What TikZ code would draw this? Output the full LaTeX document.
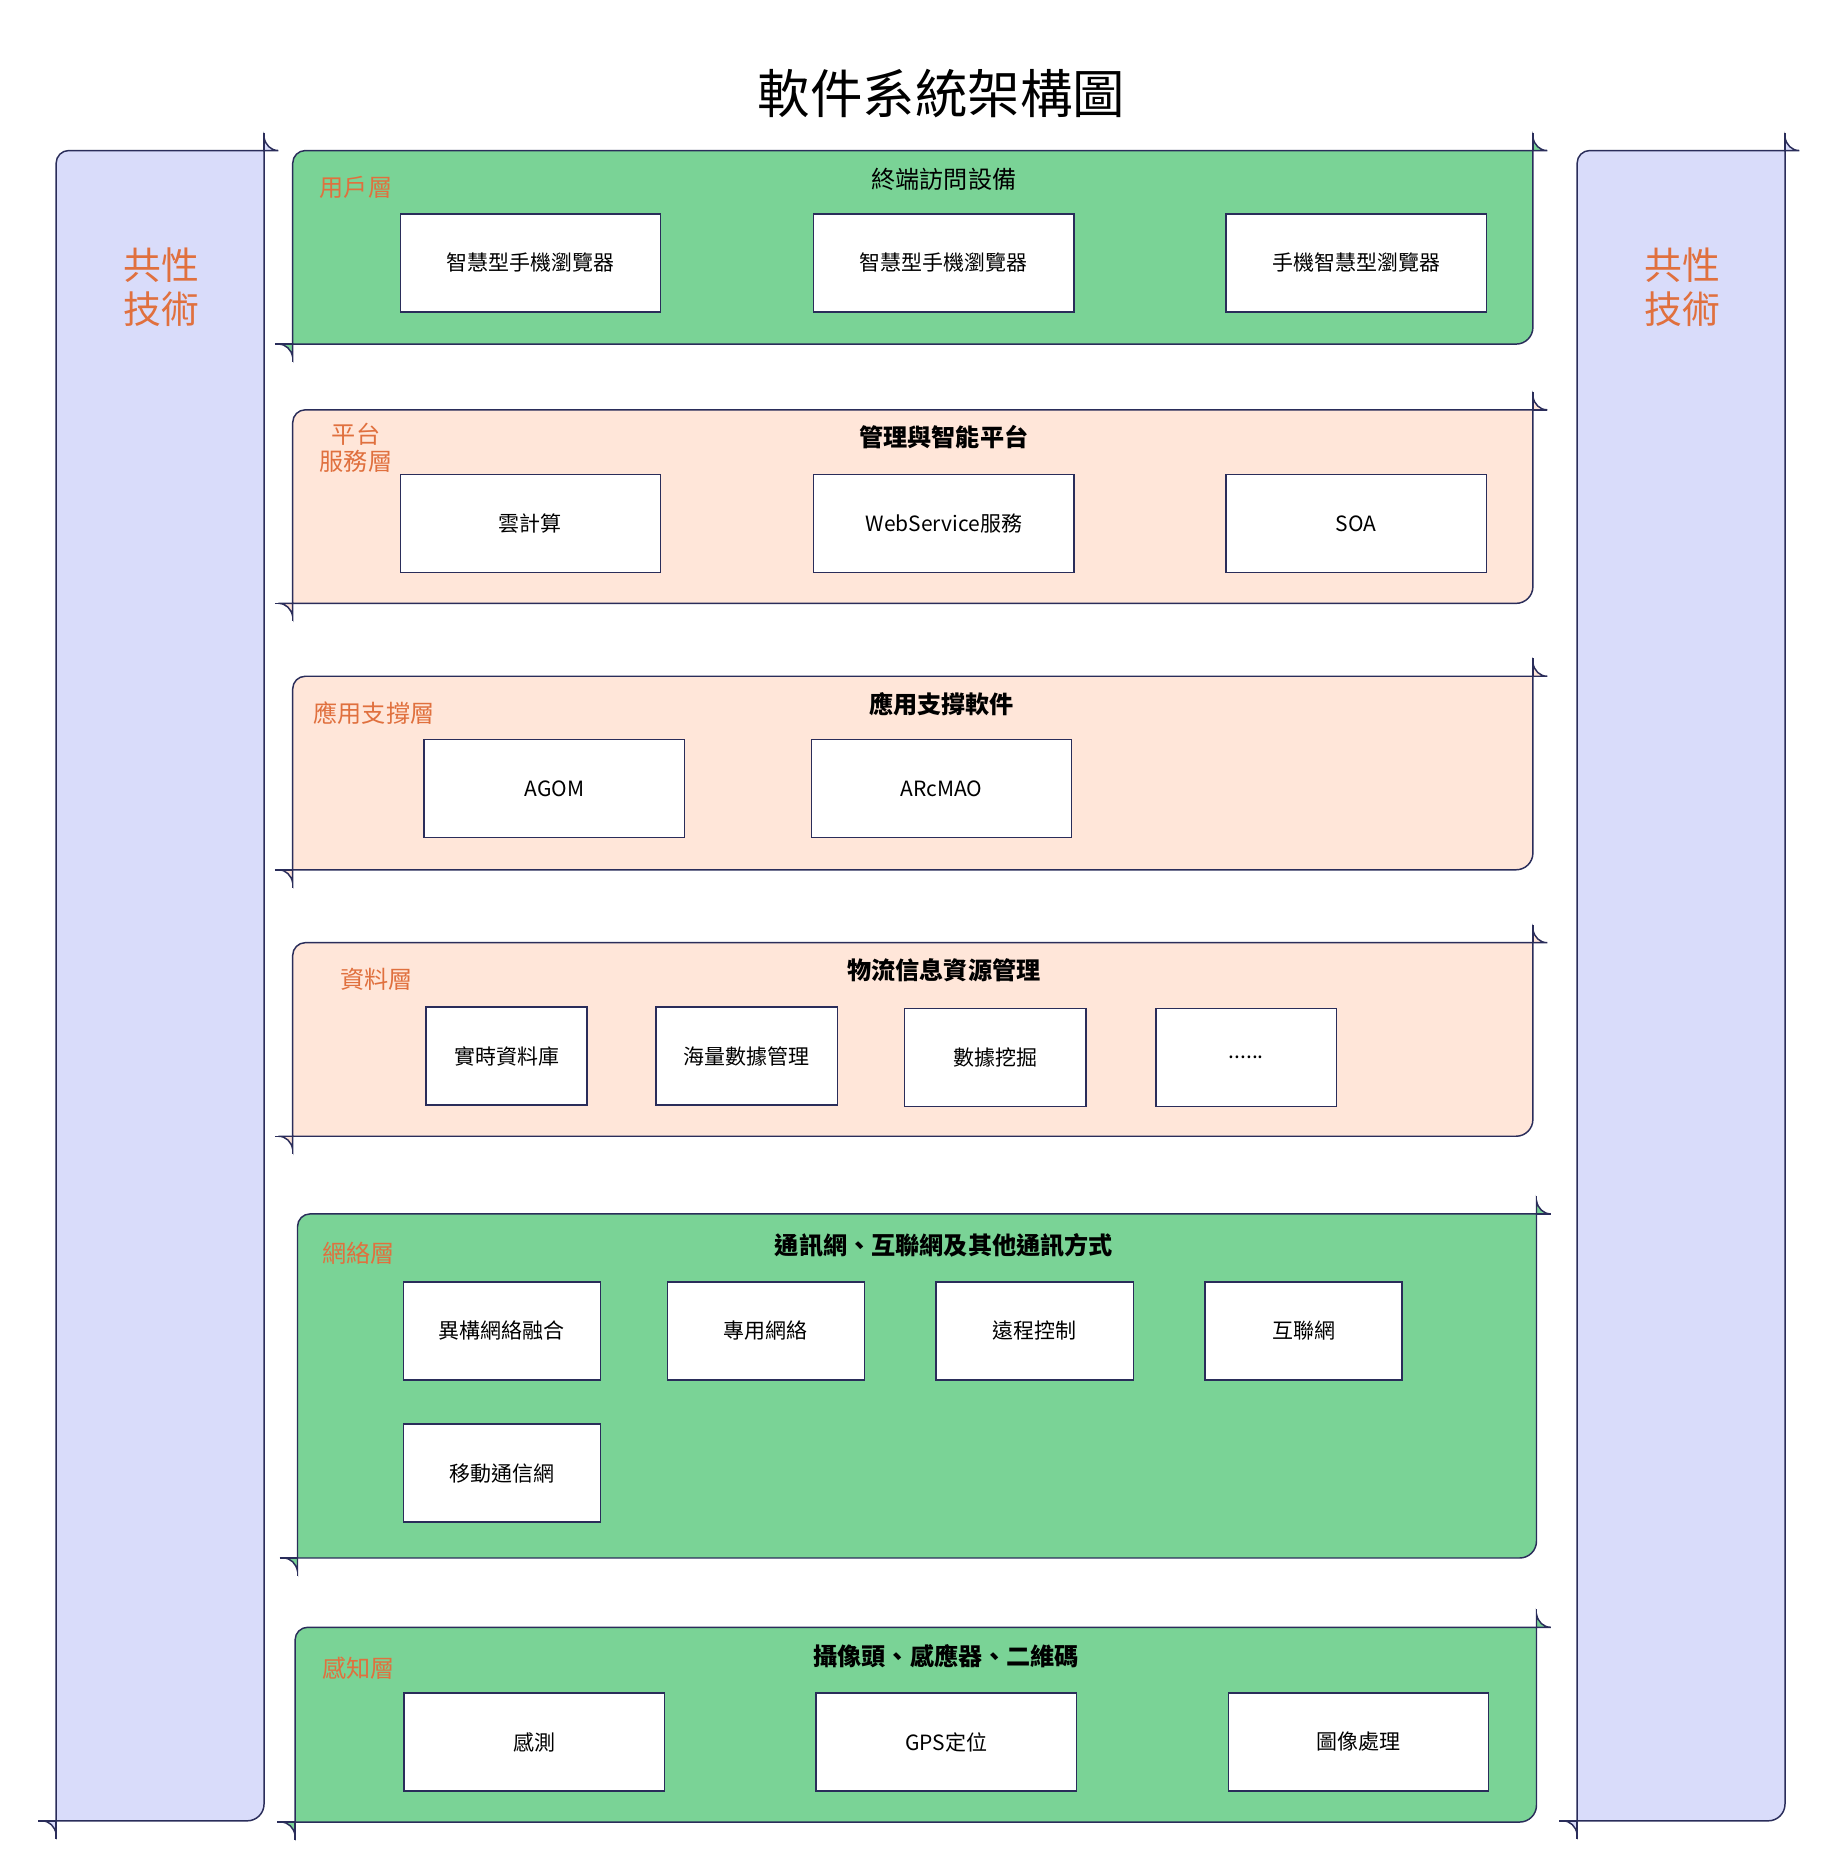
\documentclass[tikz,border=0pt]{standalone}
\usepackage{fontspec}
\setmainfont{Noto Sans CJK TC}
\usetikzlibrary{positioning}
\definecolor{layergreen}{HTML}{7AD396}
\definecolor{layerpeach}{HTML}{FFE6D9}
\definecolor{sidebar}{HTML}{D9DCFA}
\definecolor{edgeblue}{HTML}{2A2D5A}
\definecolor{tagorange}{HTML}{E0703E}
\tikzset{
  box/.style={draw=edgeblue, fill=white, minimum width=#1, minimum height=1.64cm, font=\fontsize{10}{12}\selectfont},
  box/.default=4.36cm,
  tag/.style={text=tagorange, font=\fontsize{11.5}{13}\selectfont, align=center},
  head/.style={font=\bfseries\fontsize{11.5}{13}\selectfont},
}
% panel: x1 y1 x2 y2 fill (pixel units, y downwards)
\newcommand{\panel}[5]{%
  \draw[edgeblue, fill=#5] (#1*0.02,-#4*0.02) {[rounded corners=6pt] -- (#1*0.02,-#2*0.02)} -- (#3*0.02,-#2*0.02) {[rounded corners=8pt] -- (#3*0.02,-#4*0.02)} -- cycle;
  % scroll curls
  \draw[edgeblue, fill=#5] (#3*0.02,-#2*0.02+0.22) to[out=-80,in=180] (#3*0.02+0.24,-#2*0.02) -- (#3*0.02,-#2*0.02) -- cycle;
  \draw[edgeblue] (#3*0.02,-#2*0.02+0.3) -- (#3*0.02,-#2*0.02) -- (#3*0.02+0.24,-#2*0.02);
  \draw[edgeblue, fill=#5] (#1*0.02-0.24,-#4*0.02) to[out=0,in=100] (#1*0.02,-#4*0.02-0.22) -- (#1*0.02,-#4*0.02) -- cycle;
  \draw[edgeblue] (#1*0.02-0.3,-#4*0.02) -- (#1*0.02,-#4*0.02) -- (#1*0.02,-#4*0.02-0.3);
}
\newcommand{\px}[2]{(#1*0.02,-#2*0.02)}
\begin{document}
\begin{tikzpicture}[line width=0.7pt]
  \useasboundingbox (0,0) rectangle (30.6,-31.36);
  \node[font=\fontsize{25}{28}\selectfont] (title) at \px{788}{78} {軟件系統架構圖};

  % side bars
  \panel{47}{126}{221}{1524}{sidebar}
  \panel{1320}{126}{1494}{1524}{sidebar}
  \node[tag, font=\fontsize{18}{21}\selectfont] (leftTag) at \px{135}{240} {共性\\技術};
  \node[tag, font=\fontsize{18}{21}\selectfont] (rightTag) at \px{1408}{240} {共性\\技術};

  % user layer
  \panel{245}{126}{1283}{288}{layergreen}
  \node[font=\fontsize{11.5}{13}\selectfont] (userHead) at \px{790}{150} {終端訪問設備};
  \node[tag] (userTag) at \px{298}{157} {用戶層};
  \node[box] (user1) at \px{444}{220} {智慧型手機瀏覽器};
  \node[box] (user2) at \px{790}{220} {智慧型手機瀏覽器};
  \node[box] (user3) at \px{1135}{220} {手機智慧型瀏覽器};

  % platform layer
  \panel{245}{343}{1283}{505}{layerpeach}
  \node[head] (platHead) at \px{790}{366} {管理與智能平台};
  \node[tag] (platTag) at \px{298}{375} {平台\\服務層};
  \node[box] (plat1) at \px{444}{438} {雲計算};
  \node[box] (plat2) at \px{790}{438} {WebService服務};
  \node[box] (plat3) at \px{1135}{438} {SOA};

  % support layer
  \panel{245}{566}{1283}{728}{layerpeach}
  \node[head] (suppHead) at \px{788}{589} {應用支撐軟件};
  \node[tag] (suppTag) at \px{313}{597} {應用支撐層};
  \node[box] (supp1) at \px{464}{660} {AGOM};
  \node[box] (supp2) at \px{788}{660} {ARcMAO};

  % data layer
  \panel{245}{789}{1283}{951}{layerpeach}
  \node[head] (dataHead) at \px{790}{812} {物流信息資源管理};
  \node[tag] (dataTag) at \px{315}{820} {資料層};
  \node[box=2.7cm] (data1) at \px{424}{884} {實時資料庫};
  \node[box=3.04cm] (data2) at \px{625}{884} {海量數據管理};
  \node[box=3.04cm] (data3) at \px{833}{885} {數據挖掘};
  \node[box=3.02cm] (data4) at \px{1043}{885} {......};

  % network layer
  \panel{249}{1016}{1286}{1304}{layergreen}
  \node[head] (netHead) at \px{790}{1042} {通訊網、互聯網及其他通訊方式};
  \node[tag] (netTag) at \px{300}{1049} {網絡層};
  \node[box=3.3cm] (net1) at \px{420}{1114} {異構網絡融合};
  \node[box=3.3cm] (net2) at \px{641}{1114} {專用網絡};
  \node[box=3.3cm] (net3) at \px{866}{1114} {遠程控制};
  \node[box=3.3cm] (net4) at \px{1091}{1114} {互聯網};
  \node[box=3.3cm] (net5) at \px{420}{1233} {移動通信網};

  % sensing layer
  \panel{247}{1362}{1286}{1525}{layergreen}
  \node[head] (senseHead) at \px{792}{1386} {攝像頭、感應器、二維碼};
  \node[tag] (senseTag) at \px{300}{1396} {感知層};
  \node[box] (sense1) at \px{447}{1458} {感測};
  \node[box] (sense2) at \px{792}{1458} {GPS定位};
  \node[box] (sense3) at \px{1137}{1458} {圖像處理};
\end{tikzpicture}
\end{document}
